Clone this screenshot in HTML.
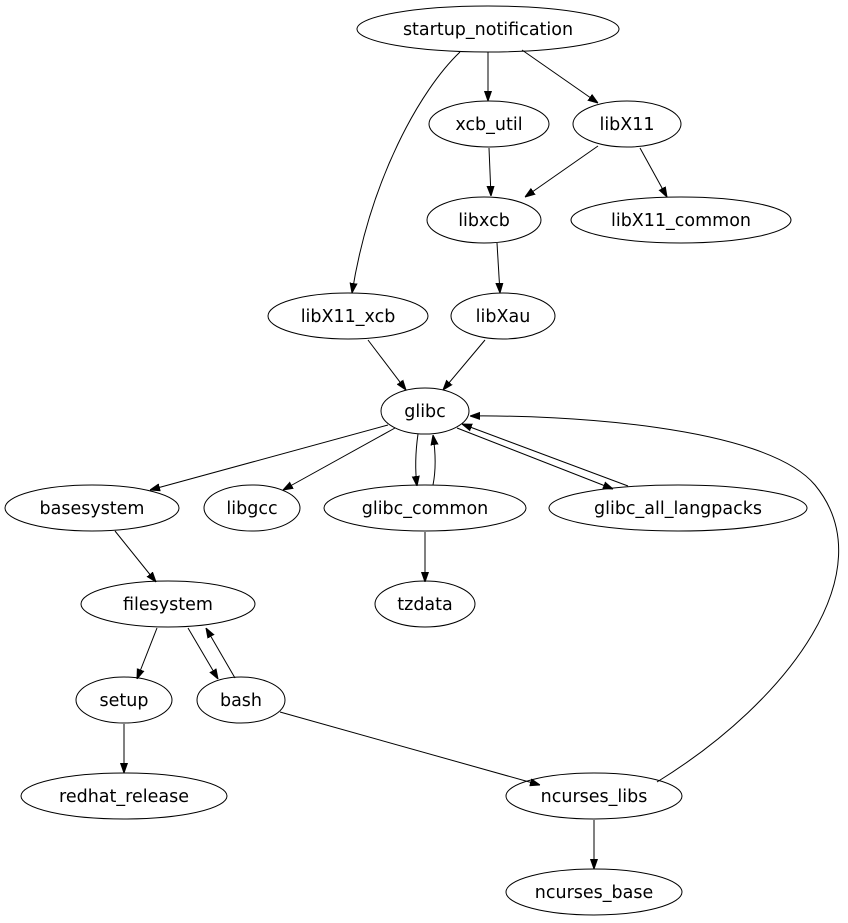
<!DOCTYPE html>
<html><head><meta charset="utf-8"><style>
html,body{margin:0;padding:0;background:#fff;}
svg{display:block;}
text{font-family:"DejaVu Sans","Liberation Sans",sans-serif;font-size:17.5px;text-anchor:middle;fill:#000;}
ellipse{fill:none;stroke:#000;stroke-width:1;}
path{fill:none;stroke:#000;stroke-width:1;}
</style></head><body>
<svg width="848" height="923" viewBox="0 0 848 923" xmlns="http://www.w3.org/2000/svg">
<defs><marker id="a" viewBox="0 0 10 10" refX="10" refY="5" markerWidth="10" markerHeight="10" markerUnits="userSpaceOnUse" orient="auto"><path d="M0,1.5 L10,5 L0,8.5 Z" style="fill:#000;stroke:#000"/></marker></defs>
<g marker-end="url(#a)">
<path d="M488,52 L488,101"/>
<path d="M522,50 L598,103"/>
<path d="M460,52 C420,90 370,180 352,293"/>
<path d="M489,148 L491,196"/>
<path d="M598,146 L525,197"/>
<path d="M640,148 L667,197"/>
<path d="M497,243 L500,293"/>
<path d="M368,340 L406,390"/>
<path d="M485,340 L443,390"/>
<path d="M388,425 L150,490"/>
<path d="M395,428 L283,490"/>
<path d="M418,434 C415,455 415,470 417,486"/>
<path d="M433,485 C436,470 436,455 433,435"/>
<path d="M457,428 L613,489"/>
<path d="M628,486 L462,424"/>
<path d="M425,532 L425,582"/>
<path d="M115,531 L156,582"/>
<path d="M157,628 L137,679"/>
<path d="M188,628 L218,679"/>
<path d="M235,678 L206,628"/>
<path d="M124,724 L124,773"/>
<path d="M280,712 L540,785"/>
<path d="M657,782 C790,700 885,570 815,485 C765,425 560,415 470,416"/>
<path d="M594,820 L594,869"/>
</g>
<ellipse cx="488" cy="29" rx="131" ry="23"/><text x="488" y="35">startup_notification</text>
<ellipse cx="489" cy="124" rx="60" ry="23"/><text x="489" y="130">xcb_util</text>
<ellipse cx="627" cy="124" rx="54" ry="23"/><text x="627" y="130">libX11</text>
<ellipse cx="484" cy="220" rx="57" ry="23"/><text x="484" y="226">libxcb</text>
<ellipse cx="681" cy="220" rx="110" ry="23"/><text x="681" y="226">libX11_common</text>
<ellipse cx="348" cy="316" rx="80" ry="23"/><text x="348" y="322">libX11_xcb</text>
<ellipse cx="503" cy="316" rx="52" ry="23"/><text x="503" y="322">libXau</text>
<ellipse cx="425" cy="411" rx="44" ry="23"/><text x="425" y="417">glibc</text>
<ellipse cx="92" cy="508" rx="87" ry="23"/><text x="92" y="514">basesystem</text>
<ellipse cx="252" cy="508" rx="48" ry="23"/><text x="252" y="514">libgcc</text>
<ellipse cx="425" cy="508" rx="101" ry="23"/><text x="425" y="514">glibc_common</text>
<ellipse cx="678" cy="508" rx="129" ry="23"/><text x="678" y="514">glibc_all_langpacks</text>
<ellipse cx="425" cy="604" rx="50" ry="23"/><text x="425" y="610">tzdata</text>
<ellipse cx="168" cy="604" rx="87" ry="23"/><text x="168" y="610">filesystem</text>
<ellipse cx="124" cy="700" rx="48" ry="23"/><text x="124" y="706">setup</text>
<ellipse cx="241" cy="700" rx="44" ry="23"/><text x="241" y="706">bash</text>
<ellipse cx="124" cy="796" rx="103" ry="23"/><text x="124" y="802">redhat_release</text>
<ellipse cx="594" cy="796" rx="88" ry="23"/><text x="594" y="802">ncurses_libs</text>
<ellipse cx="594" cy="892" rx="88" ry="23"/><text x="594" y="898">ncurses_base</text>
</svg>
</body></html>
